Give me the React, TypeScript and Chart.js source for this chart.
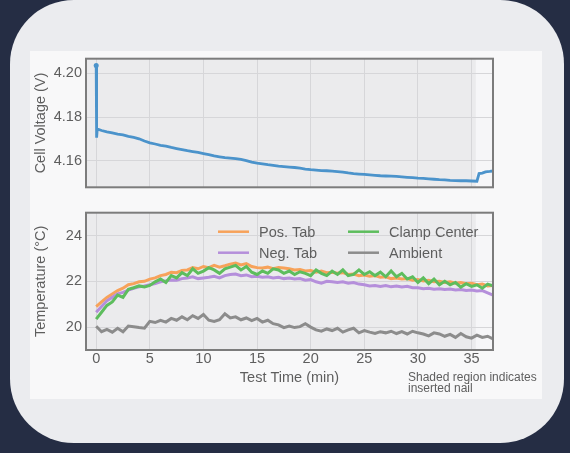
import React, { useEffect, useRef } from "react";
import { Chart, registerables } from "chart.js";

Chart.register(...registerables);

const FONT = "'Liberation Sans', Arial, sans-serif";

// ---- data ----
const voltTimes = [
  0, 0.04, 0.1, 0.5, 1, 1.5, 2, 2.5, 3, 3.5, 4, 4.5, 5, 5.5, 6, 6.5, 7, 7.5, 8, 8.5,
  9, 9.5, 10, 10.5, 11, 11.5, 12, 12.5, 13, 13.5, 14, 14.5, 15, 15.5, 16, 16.5, 17,
  17.5, 18, 18.5, 19, 19.5, 20, 20.5, 21, 21.5, 22, 22.5, 23, 23.5, 24, 24.5, 25,
  25.5, 26, 26.5, 27, 27.5, 28, 28.5, 29, 29.5, 30, 30.5, 31, 31.5, 32, 32.5, 33,
  33.5, 34, 34.5, 35, 35.5, 35.7, 36, 36.3, 36.7, 37,
];
const voltValues = [
  4.2037, 4.1705, 4.1745, 4.1738, 4.1732, 4.1727, 4.1721, 4.1718, 4.1711, 4.1706,
  4.17, 4.169, 4.1681, 4.1676, 4.167, 4.1666, 4.166, 4.1655, 4.165, 4.1645, 4.1641,
  4.1637, 4.1632, 4.1627, 4.1621, 4.1617, 4.1613, 4.1611, 4.1609, 4.1605, 4.16,
  4.1593, 4.1588, 4.1585, 4.1581, 4.1578, 4.1574, 4.1572, 4.157, 4.1568, 4.1565,
  4.1561, 4.1558, 4.1556, 4.1554, 4.1553, 4.1551, 4.1549, 4.1547, 4.1543, 4.154,
  4.1538, 4.1536, 4.1534, 4.1532, 4.153, 4.1529, 4.1528, 4.1527, 4.1525, 4.1523,
  4.1521, 4.1519, 4.1518, 4.1516, 4.1514, 4.1512, 4.1511, 4.1509, 4.1508, 4.1507,
  4.1507, 4.1506, 4.1505, 4.154, 4.1542, 4.1548, 4.155, 4.1552,
];

const tempTimes = [
  0, 0.5, 1, 1.5, 2, 2.5, 3, 3.5, 4, 4.5, 5, 5.5, 6, 6.5, 7, 7.5, 8, 8.5, 9, 9.5,
  10, 10.5, 11, 11.5, 12, 12.5, 13, 13.5, 14, 14.5, 15, 15.5, 16, 16.5, 17, 17.5,
  18, 18.5, 19, 19.5, 20, 20.5, 21, 21.5, 22, 22.5, 23, 23.5, 24, 24.5, 25, 25.5,
  26, 26.5, 27, 27.5, 28, 28.5, 29, 29.5, 30, 30.5, 31, 31.5, 32, 32.5, 33, 33.5,
  34, 34.5, 35, 35.5, 36, 36.5, 37,
];
const posTab = [
  20.9, 21.1, 21.3, 21.45, 21.6, 21.7, 21.85, 21.9, 21.98, 22.0,
  22.1, 22.15, 22.25, 22.3, 22.4, 22.38, 22.48, 22.5, 22.6, 22.55,
  22.65, 22.6, 22.7, 22.62, 22.68, 22.75, 22.8, 22.72, 22.78, 22.65,
  22.6, 22.58, 22.62, 22.55, 22.6, 22.58, 22.55, 22.5, 22.52, 22.45,
  22.47, 22.4, 22.45, 22.38, 22.4, 22.35, 22.38, 22.3, 22.32, 22.25,
  22.28, 22.22, 22.25, 22.18, 22.2, 22.12, 22.15, 22.1, 22.12, 22.05,
  22.08, 22.02, 22.05, 21.98, 22.0, 21.95, 21.98, 21.92, 21.95, 21.9,
  21.92, 21.85, 21.88, 21.8, 21.82,
];
const negTab = [
  20.65, 20.9, 21.15, 21.3, 21.45, 21.52, 21.62, 21.7, 21.76, 21.8,
  21.85, 21.9, 21.98, 22.02, 22.06, 22.05, 22.12, 22.15, 22.2, 22.12,
  22.15, 22.18, 22.22, 22.15, 22.25, 22.3, 22.32, 22.25, 22.28, 22.2,
  22.22, 22.18, 22.2, 22.15, 22.18, 22.12, 22.15, 22.1, 22.12, 22.05,
  22.08, 21.98, 21.92, 22.0, 21.98, 21.95, 21.98, 21.92, 21.95, 21.88,
  21.85, 21.8, 21.82, 21.78, 21.82, 21.76, 21.8, 21.75, 21.78, 21.72,
  21.72, 21.68, 21.7, 21.66, 21.68, 21.64, 21.66, 21.62, 21.64, 21.6,
  21.62, 21.58, 21.6, 21.5, 21.4,
];
const clampCenter = [
  20.35, 20.65, 20.95, 21.1, 21.4, 21.3, 21.65, 21.72, 21.8, 21.75,
  21.82, 21.98, 22.1, 21.95, 22.25, 22.15, 22.38, 22.25, 22.55, 22.35,
  22.45, 22.6, 22.5, 22.35, 22.55, 22.62, 22.7, 22.5, 22.65, 22.4,
  22.3, 22.45, 22.35, 22.55, 22.5, 22.35, 22.45, 22.3, 22.42, 22.35,
  22.25, 22.5, 22.35, 22.25, 22.45, 22.3, 22.5, 22.25, 22.3, 22.5,
  22.3, 22.42, 22.25, 22.4, 22.2, 22.45, 22.2, 22.35, 22.1, 22.2,
  21.95, 22.15, 21.9, 22.1, 21.85, 22.0, 21.85, 21.95, 21.75, 21.9,
  21.78, 21.85, 21.7, 21.88, 21.8,
];
const ambient = [
  20.04, 19.8, 19.9, 19.78, 19.95, 19.8, 20.05, 20.02, 19.98, 19.95,
  20.25, 20.2, 20.3, 20.22, 20.38, 20.3, 20.45, 20.32, 20.5, 20.38,
  20.55, 20.3, 20.25, 20.32, 20.58, 20.4, 20.45, 20.32, 20.4, 20.28,
  20.38, 20.22, 20.3, 20.15, 20.1, 19.98, 20.05, 19.98, 20.02, 20.15,
  20.0, 19.88, 19.82, 19.92, 19.85, 19.95, 19.78, 19.88, 19.95, 19.75,
  19.85, 19.78, 19.72, 19.8, 19.75, 19.82, 19.72, 19.8, 19.7, 19.82,
  19.75, 19.7, 19.62, 19.75, 19.7, 19.6, 19.68, 19.55, 19.72, 19.58,
  19.52, 19.65, 19.55, 19.6, 19.48,
];

const seriesLabels = ["Pos. Tab", "Neg. Tab", "Clamp Center", "Ambient"];
const seriesColors = ["#f7a25a", "#b58fdb", "#5dbd5d", "#8c8c8c"];
const timeTicks = [0, 5, 10, 15, 20, 25, 30, 35];
const voltTicks = [4.16, 4.18, 4.2];
const tempTicks = [20, 22, 24];
const X_MIN = -0.95;
const X_MAX = 37;
const NAIL_START = 35.4;

// ---- styling ----
const TEXT = "#5e5e5e";
const GRID = "#d6d6d9";
const PLOT_BG = "#ebebed";
const SHADE_BG = "#f6f6f8";
const FRAME = "#7c7c7c";
const FS = 14.5;

const panelPlugin = {
  id: "panelBg",
  beforeDraw(chart: any) {
    const { ctx, chartArea: a, scales } = chart;
    ctx.save();
    ctx.fillStyle = PLOT_BG;
    ctx.fillRect(a.left, a.top, a.right - a.left, a.bottom - a.top);
    const xs = scales.x.getPixelForValue(NAIL_START);
    ctx.fillStyle = SHADE_BG;
    ctx.fillRect(xs, a.top, a.right - xs, a.bottom - a.top);
    ctx.restore();
  },
  afterDraw(chart: any) {
    const { ctx, chartArea: a } = chart;
    ctx.save();
    ctx.strokeStyle = FRAME;
    ctx.lineWidth = 2;
    ctx.strokeRect(a.left, a.top, a.right - a.left, a.bottom - a.top);
    ctx.restore();
  },
};

const legendPlugin = {
  id: "innerLegend",
  afterDatasetsDraw(chart: any) {
    const { ctx, chartArea: a } = chart;
    const colX = [132, 262];
    const rowY = [19, 40];
    ctx.save();
    ctx.font = `${FS}px ${FONT}`;
    ctx.textBaseline = "middle";
    ctx.textAlign = "left";
    chart.data.datasets.forEach((ds: any, i: number) => {
      const col = Math.floor(i / 2);
      const row = i % 2;
      const x0 = a.left + colX[col];
      const y0 = a.top + rowY[row];
      ctx.strokeStyle = ds.borderColor;
      ctx.lineWidth = 2.5;
      ctx.beginPath();
      ctx.moveTo(x0, y0);
      ctx.lineTo(x0 + 31, y0);
      ctx.stroke();
      ctx.fillStyle = TEXT;
      ctx.fillText(ds.label, x0 + 41, y0 + 1);
    });
    ctx.restore();
  },
};

function yScale(min: number, max: number, ticks: number[], title: string, digits: number) {
  return {
    type: "linear" as const,
    min,
    max,
    afterBuildTicks: (s: any) => {
      s.ticks = ticks.map((v) => ({ value: v }));
    },
    afterFit: (s: any) => {
      s.width = 56;
    },
    ticks: {
      color: TEXT,
      padding: 4,
      font: { family: FONT, size: FS },
      callback: (v: any) => Number(v).toFixed(digits),
    },
    grid: { color: GRID, lineWidth: 1, drawTicks: false },
    border: { display: false },
    title: {
      display: true,
      text: title,
      color: TEXT,
      font: { family: FONT, size: FS },
      padding: { top: 2, bottom: 0 },
    },
  };
}

export default function App() {
  const topRef = useRef<HTMLCanvasElement>(null);
  const botRef = useRef<HTMLCanvasElement>(null);

  useEffect(() => {
    const top = new Chart(topRef.current as HTMLCanvasElement, {
      type: "line",
      data: {
        datasets: [
          {
            label: "Cell Voltage",
            data: voltTimes.map((t, i) => ({ x: t, y: voltValues[i] })),
            borderColor: "#4b93cb",
            backgroundColor: "#4b93cb",
            borderWidth: 2.8,
            tension: 0,
            pointRadius: (c: any) => (c.dataIndex === 0 ? 2.5 : 0),
            pointBorderWidth: 0,
          },
        ],
      },
      options: {
        animation: false,
        responsive: false,
        maintainAspectRatio: false,
        layout: { padding: { top: 6, right: 49, left: 0, bottom: 0 } },
        plugins: { legend: { display: false }, tooltip: { enabled: false } },
        scales: {
          x: {
            type: "linear",
            min: X_MIN,
            max: X_MAX,
            afterBuildTicks: (s: any) => {
              s.ticks = timeTicks.map((v) => ({ value: v }));
            },
            afterFit: (s: any) => {
              s.height = 4;
            },
            ticks: { display: false },
            grid: { color: GRID, lineWidth: 1, drawTicks: false },
            border: { display: false },
          },
          y: yScale(4.1477, 4.2068, voltTicks, "Cell Voltage (V)", 2),
        },
      } as any,
      plugins: [panelPlugin],
    });

    const tempSeries = [posTab, negTab, clampCenter, ambient];
    const bot = new Chart(botRef.current as HTMLCanvasElement, {
      type: "line",
      data: {
        datasets: tempSeries.map((vals, k) => ({
          label: seriesLabels[k],
          data: tempTimes.map((t, i) => ({ x: t, y: vals[i] })),
          borderColor: seriesColors[k],
          backgroundColor: seriesColors[k],
          borderWidth: 3,
          tension: 0,
          pointRadius: 0,
          order: 3 - k,
        })),
      },
      options: {
        animation: false,
        responsive: false,
        maintainAspectRatio: false,
        layout: { padding: { top: 6, right: 49, left: 0, bottom: 0 } },
        plugins: { legend: { display: false }, tooltip: { enabled: false } },
        scales: {
          x: {
            type: "linear",
            min: X_MIN,
            max: X_MAX,
            afterBuildTicks: (s: any) => {
              s.ticks = timeTicks.map((v) => ({ value: v }));
            },
            afterFit: (s: any) => {
              s.height = 50;
            },
            ticks: {
              color: TEXT,
              padding: 0,
              maxRotation: 0,
              autoSkip: false,
              font: { family: FONT, size: FS },
              callback: (v: any) => String(v),
            },
            grid: { color: GRID, lineWidth: 1, drawTicks: false },
            border: { display: false },
            title: {
              display: true,
              text: "Test Time (min)",
              color: TEXT,
              font: { family: FONT, size: FS },
              padding: { top: 0, bottom: 13 },
            },
          },
          y: yScale(19, 25, tempTicks, "Temperature (°C)", 0),
        },
      } as any,
      plugins: [panelPlugin, legendPlugin],
    });

    return () => {
      top.destroy();
      bot.destroy();
    };
  }, []);

  return (
    <div
      style={{
        position: "fixed",
        left: 0,
        top: 0,
        width: 570,
        height: 453,
        background: "#252d44",
        overflow: "hidden",
        fontFamily: FONT,
      }}
    >
      <div
        style={{
          position: "absolute",
          left: 10,
          top: 0,
          width: 554,
          height: 443,
          borderRadius: 64,
          background: "#ebecef",
        }}
      />
      <div
        style={{
          position: "absolute",
          left: 30,
          top: 51,
          width: 512,
          height: 348,
          background: "#f8f8f9",
        }}
      />
      <canvas
        ref={topRef}
        width={512}
        height={154}
        style={{ position: "absolute", left: 30, top: 46, display: "block" }}
      />
      <canvas
        ref={botRef}
        width={512}
        height={200}
        style={{ position: "absolute", left: 30, top: 200, display: "block" }}
      />
      <div
        style={{
          position: "absolute",
          left: 408,
          top: 372,
          fontSize: 12,
          lineHeight: "11px",
          color: TEXT,
          whiteSpace: "nowrap",
        }}
      >
        Shaded region indicates
        <br />
        inserted nail
      </div>
    </div>
  );
}
